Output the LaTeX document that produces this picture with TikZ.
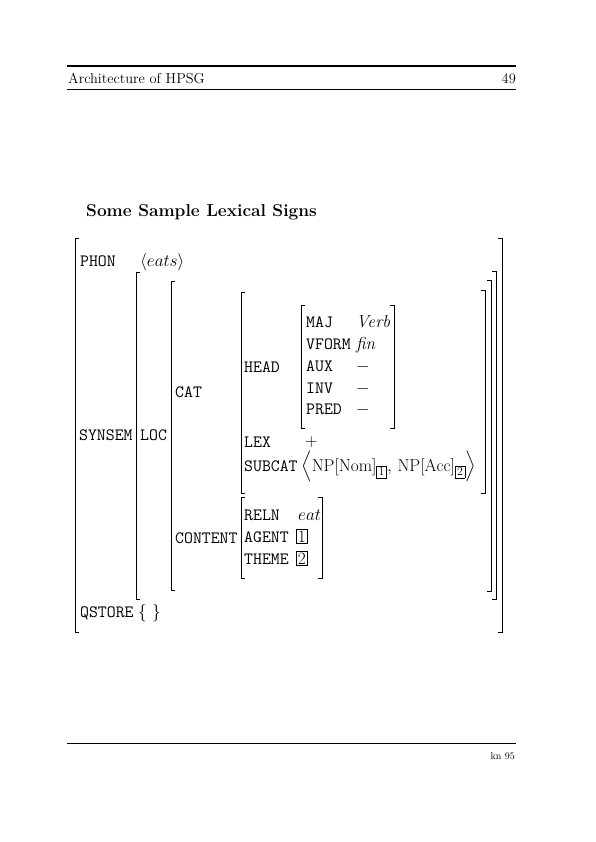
\documentclass[tikz,border=0pt]{standalone}
\usepackage{amsmath}
\usepackage{fontspec}
\newcommand{\avmsize}{\fontsize{17.28}{20}\selectfont}
\newcommand{\tagbox}[1]{{\setlength{\fboxsep}{1.2pt}\setlength{\fboxrule}{0.5pt}\fbox{\ensuremath{#1}}}}
\newcommand{\stag}[1]{\mbox{\setlength{\fboxsep}{1.6pt}\setlength{\fboxrule}{0.5pt}\fbox{\fontsize{12}{14}\selectfont #1}}}
\tikzset{
  lab/.style={anchor=base west,inner sep=0pt,font=\avmsize\ttfamily},
  val/.style={anchor=base west,inner sep=0pt,font=\avmsize},
  brk/.style={line width=0.8pt},
}
\newcommand{\avmL}[3]{\draw[brk] (#1+4,#2) -- (#1,#2) -- (#1,#3) -- (#1+4,#3);}
\newcommand{\avmR}[3]{\draw[brk] (#1-4,#2) -- (#1,#2) -- (#1,#3) -- (#1-4,#3);}
\begin{document}
\begin{tikzpicture}[x=1pt,y=-1pt]
\useasboundingbox (0,0) rectangle (595,842);
% header
\draw[line width=1.2pt] (67,66) coordinate (ht1) -- (516,66) coordinate (ht2);
\node[anchor=base west,inner sep=0pt,font=\fontsize{14.4}{17}\selectfont] (htitle) at (68,84) {Architecture of HPSG};
\node[anchor=base east,inner sep=0pt,font=\fontsize{14.4}{17}\selectfont] (hpage) at (516,84) {49};
\draw[line width=0.5pt] (67,89) coordinate (hb1) -- (516,89) coordinate (hb2);
% title
\node[anchor=base west,inner sep=0pt,font=\fontsize{17.28}{20}\selectfont\bfseries] (title) at (86,216) {Some Sample Lexical Signs};
% AVM labels and values
\node[lab] (phon) at (80,266) {PHON};
\node[val] (phonv) at (140,266) {$\langle eats\rangle$};
\node[lab] (synsem) at (79,440) {SYNSEM};
\node[lab] (loc) at (140,440) {LOC};
\node[lab] (cat) at (175,397) {CAT};
\node[lab] (head) at (244,372) {HEAD};
\node[lab] (maj) at (306,327) {MAJ};
\node[val] (majv) at (356,327) {\textit{Verb}};
\node[lab] (vform) at (306,349) {VFORM};
\node[val] (vformv) at (356,349) {\textit{fin}};
\node[lab] (aux) at (306,371) {AUX};
\node[val] (auxv) at (356,371) {$-$};
\node[lab] (inv) at (306,393) {INV};
\node[val] (invv) at (356,393) {$-$};
\node[lab] (pred) at (306,414) {PRED};
\node[val] (predv) at (356,414) {$-$};
\node[lab] (lex) at (244,447) {LEX};
\node[val] (lexv) at (305,446) {$+$};
\node[lab] (subcat) at (244,471) {SUBCAT};
\node[val] (subcatv) at (301,471) {$\left\langle\vrule height 15pt depth 11pt width 0pt \mathrm{NP[Nom]}_{\stag{1}},\,\mathrm{NP[Acc]}_{\stag{2}}\right\rangle$};
\node[lab] (content) at (175,543) {CONTENT};
\node[lab] (reln) at (244,520) {RELN};
\node[val] (relnv) at (298,520) {$eat$};
\node[lab] (agent) at (244,542) {AGENT};
\node[val] (agentv) at (296,542) {\tagbox{1}};
\node[lab] (theme) at (244,564) {THEME};
\node[val] (themev) at (296,564) {\tagbox{2}};
\node[lab] (qstore) at (80,617) {QSTORE};
\node[val] (qstorev) at (138,617) {$\{\ \}$};
% brackets
\avmL{75}{238}{632}  \avmR{502}{238}{632}
\avmL{136}{272}{599} \avmR{496}{271}{599}
\avmL{171}{281}{590} \avmR{491}{280}{591}
\avmL{241}{292}{493} \avmR{485}{290}{493}
\avmL{301}{305}{428} \avmR{394}{305}{428}
\avmL{241}{497}{578} \avmR{322}{497}{578}
% footer
\draw[line width=1pt] (67,743) coordinate (ft1) -- (516,743) coordinate (ft2);
\node[anchor=base east,inner sep=0pt,font=\fontsize{10}{12}\selectfont] (kn) at (515,759) {kn 95};
\end{tikzpicture}
\end{document}
